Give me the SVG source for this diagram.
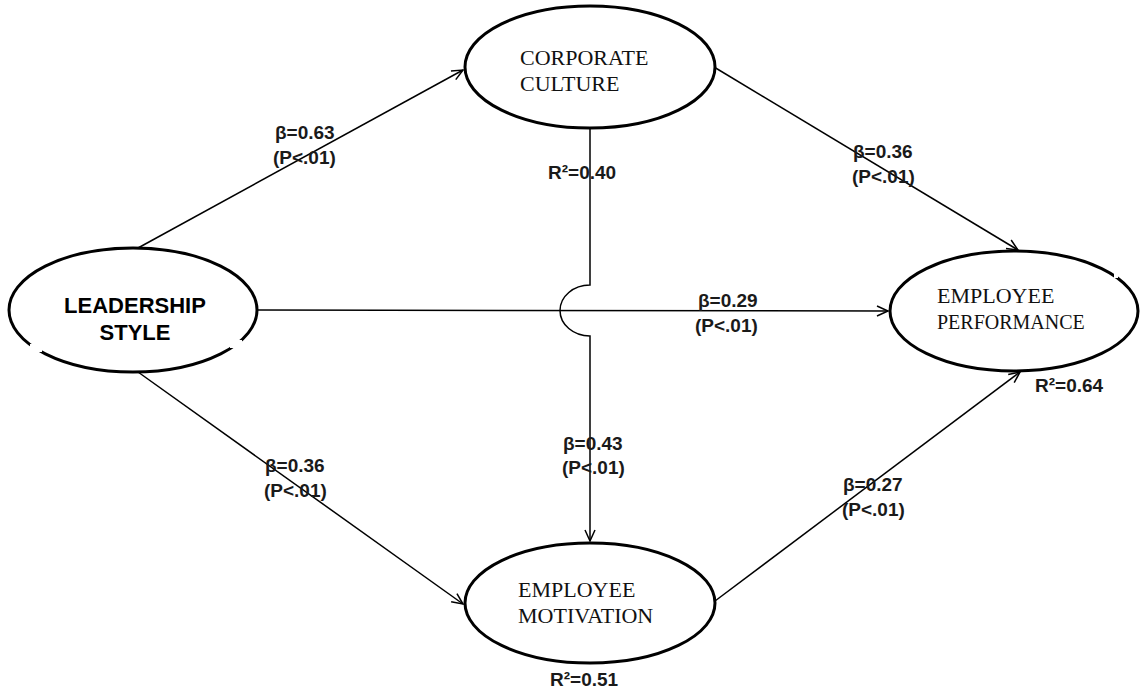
<svg xmlns="http://www.w3.org/2000/svg" width="1141" height="692" viewBox="0 0 1141 692">
<defs>
<marker id="arr" markerUnits="userSpaceOnUse" markerWidth="14" markerHeight="14" refX="12" refY="6" orient="auto">
<path d="M1,1 L12,6 L1,11" fill="none" stroke="#000" stroke-width="1.5"/>
</marker>
<style>
.node{fill:#fff;stroke:#000;stroke-width:3}
.edge{fill:none;stroke:#000;stroke-width:1.5}
.lbl{font-family:"Liberation Sans",Arial,sans-serif;font-weight:bold;font-size:19px;fill:#1a1a1a}
.tn{font-family:"Liberation Serif","Times New Roman",serif;font-size:22px;fill:#111}
.bn{font-family:"Liberation Sans",Arial,sans-serif;font-weight:bold;font-size:22px;fill:#000}
</style>
</defs>
<rect width="1141" height="692" fill="#fff"/>
<g id="connectors">
<path class="edge" d="M138,248 L463,70" marker-end="url(#arr)"/>
<path class="edge" d="M138,372 L463,604" marker-end="url(#arr)"/>
<path class="edge" d="M258,310 L888,311" marker-end="url(#arr)"/>
<path class="edge" d="M714,67 L1018,250" marker-end="url(#arr)"/>
<path class="edge" d="M715,601 L1020,372" marker-end="url(#arr)"/>
<path class="edge" d="M590,128 V285 A30,25.5 0 0 0 590,336 V541" marker-end="url(#arr)"/>
</g>
<g id="leadership">
<ellipse class="node" cx="133" cy="310" rx="124" ry="62"/>
<rect x="30" y="344" width="12" height="8" fill="#fff"/>
<rect x="230" y="340" width="12" height="8" fill="#fff"/>
<text class="bn" x="135" y="313" text-anchor="middle">LEADERSHIP</text>
<text class="bn" x="135" y="340" text-anchor="middle">STYLE</text>
</g>
<g id="culture">
<ellipse class="node" cx="590" cy="67" rx="125" ry="61"/>
<text class="tn" x="520" y="65">CORPORATE</text>
<text class="tn" x="520" y="91">CULTURE</text>
</g>
<g id="performance">
<ellipse class="node" cx="1014" cy="311" rx="124" ry="60"/>
<rect x="1114" y="268" width="4" height="10" fill="#fff"/>
<text class="tn" x="937" y="303">EMPLOYEE</text>
<text class="tn" x="937" y="329" style="font-size:20px">PERFORMANCE</text>
</g>
<g id="motivation">
<ellipse class="node" cx="590" cy="603" rx="125" ry="60"/>
<text class="tn" x="518" y="597">EMPLOYEE</text>
<text class="tn" x="518" y="623">MOTIVATION</text>
</g>
<g id="labels">
<text class="lbl" x="275" y="139">β=0.63</text>
<text class="lbl" x="273" y="164">(P&lt;.01)</text>
<text class="lbl" x="548" y="179">R²=0.40</text>
<text class="lbl" x="853" y="158">β=0.36</text>
<text class="lbl" x="852" y="183">(P&lt;.01)</text>
<text class="lbl" x="698" y="307">β=0.29</text>
<text class="lbl" x="695" y="332">(P&lt;.01)</text>
<text class="lbl" x="563" y="450">β=0.43</text>
<text class="lbl" x="562" y="474">(P&lt;.01)</text>
<text class="lbl" x="265" y="472">β=0.36</text>
<text class="lbl" x="264" y="497">(P&lt;.01)</text>
<text class="lbl" x="843" y="491">β=0.27</text>
<text class="lbl" x="842" y="516">(P&lt;.01)</text>
<text class="lbl" x="1035" y="392">R²=0.64</text>
<text class="lbl" x="550" y="686">R²=0.51</text>
</g>
</svg>
